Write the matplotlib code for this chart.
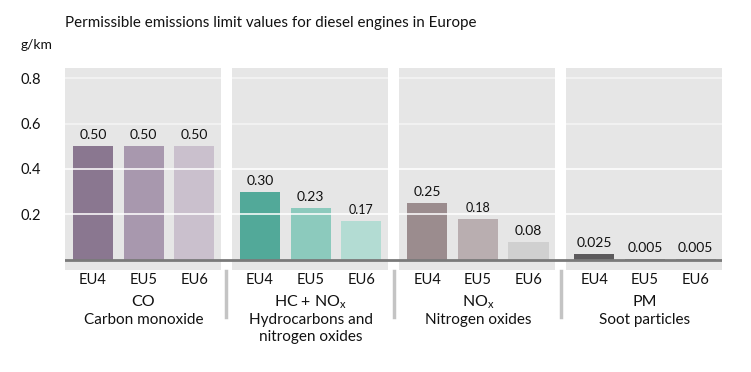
import matplotlib.pyplot as plt
from matplotlib.patches import Rectangle

plt.rcParams['font.family'] = ['Lato', 'DejaVu Sans']

stages = ['EU4', 'EU5', 'EU6']
groups = ['CO', 'HC + NO$_\\mathregular{x}$', 'NO$_\\mathregular{x}$', 'PM']
group_names = ['Carbon monoxide', 'Hydrocarbons and\nnitrogen oxides', 'Nitrogen oxides', 'Soot particles']
values = [
    [0.50, 0.50, 0.50],
    [0.30, 0.23, 0.17],
    [0.25, 0.18, 0.08],
    [0.025, 0.005, 0.005],
]
labels = [
    ['0.50', '0.50', '0.50'],
    ['0.30', '0.23', '0.17'],
    ['0.25', '0.18', '0.08'],
    ['0.025', '0.005', '0.005'],
]
colors = [
    ['#8a7790', '#a898ae', '#cac0cd'],
    ['#52a999', '#8ccabd', '#b3dcd3'],
    ['#9b8c8e', '#b9aeb0', '#d0d0d0'],
    ['#5c5a5c', '#8c8a8c', '#a0a0a0'],
]

step = 3.3
pan_l, pan_r = -0.55, 2.52
bw = 0.79

fig = plt.figure(figsize=(7.51, 3.72), dpi=100)
ax = fig.add_axes([65 / 751, (372 - 270) / 372, (722 - 65) / 751, (270 - 68) / 372])
ax.set_xlim(pan_l, 3 * step + pan_r)
ax.set_ylim(-0.044, 0.844)

for g in range(4):
    x0 = g * step
    ax.add_patch(Rectangle((x0 + pan_l, -0.044), pan_r - pan_l, 0.888,
                           facecolor='#e6e6e6', edgecolor='none', zorder=0))
    for i in range(3):
        x = x0 + i
        ax.bar(x, values[g][i], width=bw, color=colors[g][i], zorder=2)
        small = labels[g][i] in ('0.17', '0.18')
        ax.text(x, values[g][i] + 0.022, labels[g][i], ha='center', va='bottom',
                fontsize=9 if small else 10, color='#111111', zorder=4)

for v in [0.2, 0.4, 0.6, 0.8]:
    ax.axhline(v, color='white', lw=1.3, alpha=0.85 if v < 0.6 else 0.5, zorder=3)
ax.axhline(0, color='#7a7a7a', lw=2, zorder=4)

ax.set_yticks([0.2, 0.4, 0.6, 0.8])
ax.set_yticklabels(['0.2', '0.4', '0.6', '0.8'])
ax.set_xticks([])
ax.tick_params(axis='y', length=0, pad=17, labelsize=10.5, labelcolor='#111111')
for s in ax.spines.values():
    s.set_visible(False)

for g in range(4):
    x0 = g * step
    for i in range(3):
        ax.text(x0 + i, -0.09, stages[i], ha='center', va='center',
                fontsize=10.5, color='#111111', clip_on=False)
    ax.text(x0 + 1, -0.185, groups[g], ha='center', va='center',
            fontsize=11.5, color='#111111', clip_on=False)
    ax.text(x0 + 1, -0.232, group_names[g], ha='center', va='top',
            fontsize=11, color='#111111', clip_on=False, linespacing=1.3)
    if g > 0:
        ax.plot([x0 - 0.665, x0 - 0.665], [-0.047, -0.25], color='#c4c4c4',
                lw=2.5, clip_on=False, zorder=1)

fig.text(65 / 751, 1 - 23 / 372, 'Permissible emissions limit values for diesel engines in Europe',
         ha='left', va='center', fontsize=10.9, color='#111111')
fig.text(37 / 751, 1 - 45 / 372, 'g/km', ha='center', va='center', fontsize=10, color='#111111')

fig.savefig('out.png', dpi=100)
